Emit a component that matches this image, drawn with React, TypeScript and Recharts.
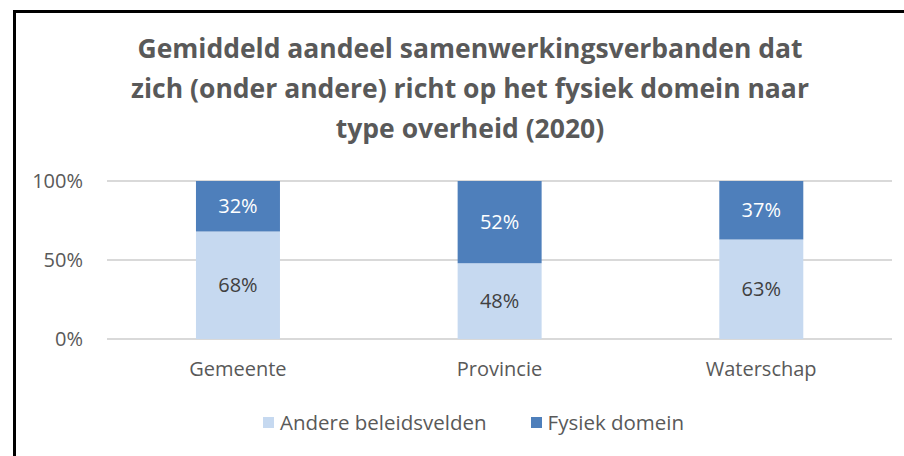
import React from "react";
import { Bar, BarChart, CartesianGrid, LabelList, XAxis, YAxis } from "recharts";

const categories = ["Gemeente", "Provincie", "Waterschap"];
const andereBeleidsvelden = [68, 48, 63];
const fysiekDomein = [32, 52, 37];
const yTicks = [0, 50, 100];
const titleLines = [
  "Gemiddeld aandeel samenwerkingsverbanden dat",
  "zich (onder andere) richt op het fysiek domein naar",
  "type overheid (2020)",
];

const data = categories.map((name, i) => ({
  name,
  andere: andereBeleidsvelden[i],
  fysiek: fysiekDomein[i],
}));

const FONT = "'Open Sans', 'Noto Sans', sans-serif";
const GREY = "#595959";
const LIGHT = "#C6D9F0";
const DARK = "#4E7FBB";

const legendItems = [
  { label: "Andere beleidsvelden", color: LIGHT },
  { label: "Fysiek domein", color: DARK },
];

export default function App() {
  return (
    <div
      style={{
        position: "absolute",
        left: 0,
        top: 0,
        width: 904,
        height: 456,
        background: "#fff",
        overflow: "hidden",
      }}
    >
      <div
        style={{
          position: "absolute",
          left: 13,
          top: 10,
          right: 0,
          bottom: 0,
          borderLeft: "3px solid #000",
          borderTop: "3px solid #000",
        }}
      />
      <div
        style={{
          position: "absolute",
          left: 0,
          top: 28,
          width: 940,
          textAlign: "center",
          fontFamily: FONT,
          fontWeight: 700,
          fontSize: 26.5,
          lineHeight: "40px",
          color: GREY,
        }}
      >
        {titleLines.map((line) => (
          <div key={line}>{line}</div>
        ))}
      </div>
      <div style={{ position: "absolute", left: 0, top: 0 }}>
        <BarChart
          width={904}
          height={456}
          data={data}
          margin={{ top: 181, right: 12, bottom: 87, left: 0 }}
          barCategoryGap="34%"
        >
          <CartesianGrid vertical={false} stroke="#D9D9D9" strokeWidth={2} />
          <XAxis
            dataKey="name"
            height={30}
            axisLine={false}
            tickLine={false}
            tickSize={0}
            tickMargin={23}
            tick={{ fontFamily: FONT, fontSize: 20, fill: GREY }}
          />
          <YAxis
            width={107}
            domain={[0, 100]}
            ticks={yTicks}
            tickFormatter={(v) => `${v}%`}
            axisLine={false}
            tickLine={false}
            tickSize={0}
            tickMargin={24}
            tick={{ fontFamily: FONT, fontSize: 20, fill: GREY }}
          />
          <Bar dataKey="andere" name="Andere beleidsvelden" stackId="a" fill={LIGHT} isAnimationActive={false}>
            <LabelList
              dataKey="andere"
              position="center"
              formatter={(v: number) => `${v}%`}
              style={{ fontFamily: FONT, fontSize: 20, fill: "#404040" }}
            />
          </Bar>
          <Bar dataKey="fysiek" name="Fysiek domein" stackId="a" fill={DARK} isAnimationActive={false}>
            <LabelList
              dataKey="fysiek"
              position="center"
              formatter={(v: number) => `${v}%`}
              style={{ fontFamily: FONT, fontSize: 20, fill: "#fff" }}
            />
          </Bar>
        </BarChart>
      </div>
      <div
        style={{
          position: "absolute",
          left: 263,
          top: 408,
          display: "flex",
          gap: 44,
          fontFamily: FONT,
          fontSize: 20.5,
          color: GREY,
        }}
      >
        {legendItems.map((item) => (
          <div key={item.label} style={{ display: "flex", alignItems: "center", gap: 6 }}>
            <span style={{ width: 11, height: 11, background: item.color, display: "inline-block" }} />
            <span>{item.label}</span>
          </div>
        ))}
      </div>
    </div>
  );
}
